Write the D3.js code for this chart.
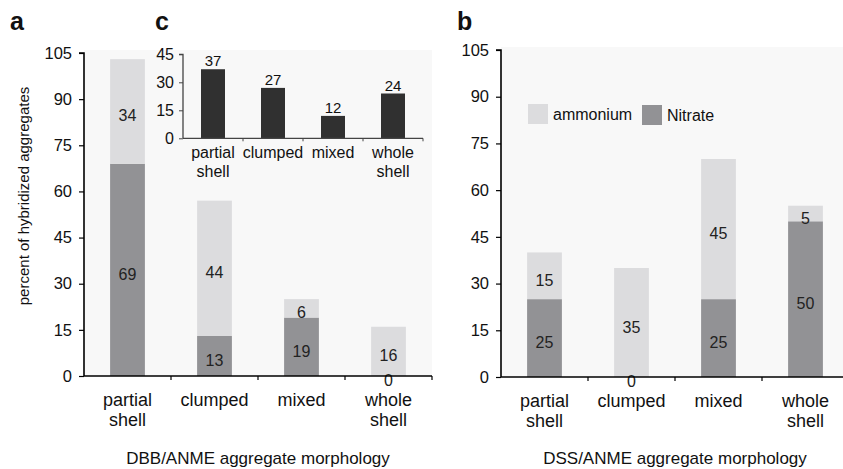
<!DOCTYPE html>
<html>
<head>
<meta charset="utf-8">
<script src="https://cdn.jsdelivr.net/npm/d3@7"></script>
<style>
  body { margin: 0; background: #fff; }
  svg { display: block; font-family: "Liberation Sans", Arial, sans-serif; }
</style>
</head>
<body>
<svg width="843" height="469"></svg>
<script>
// data
const categories = ['partial\nshell', 'clumped', 'mixed', 'whole\nshell'];
const yTicks = [0, 15, 30, 45, 60, 75, 90, 105];
const insetTicks = [0, 15, 30, 45];

// panel a (DBB/ANME)
const dbbNitrate = [69, 13, 19, 0];
const dbbAmmonium = [34, 44, 6, 16];
// panel b (DSS/ANME)
const dssNitrate = [25, 0, 25, 50];
const dssAmmonium = [15, 35, 45, 5];
// panel c (inset)
const insetValues = [37, 27, 12, 24];

const legendNames = ['ammonium', 'Nitrate'];

const colAmm = '#dcdcde';
const colNit = '#929295';
const colDark = '#303030';
const colBg = '#f8f8f8';

const svg = d3.select('svg');

function tickLabels(sel, lineH) {
  sel.each(function(d) {
    const t = d3.select(this);
    const lines = d.split('\n');
    t.text(null);
    lines.forEach((l, i) => {
      t.append('tspan').attr('x', 0).attr('dy', i === 0 ? 0 : lineH).text(l);
    });
  });
}

//stacked panel
function stackedPanel(opt) {
  const g = svg.append('g').attr('transform', `translate(${opt.left},0)`);

  const x = d3.scaleBand()
      .domain(categories)
      .range([0, opt.width])
      .paddingInner(0.6)
      .paddingOuter(0.3);
  const y = d3.scaleLinear().domain([0, 105]).range([opt.bottom, opt.top]);

  g.append('rect')
      .attr('x', 0).attr('y', opt.top - 3)
      .attr('width', opt.width).attr('height', opt.bottom - opt.top + 3)
      .attr('fill', colBg);

  const rows = categories.map((c, i) => ({ c, nit: opt.nitrate[i], amm: opt.ammonium[i] }));

  // nitrate bottom
  g.selectAll('.nit').data(rows).join('rect')
      .attr('x', d => x(d.c))
      .attr('width', x.bandwidth())
      .attr('y', d => y(d.nit))
      .attr('height', d => y(0) - y(d.nit))
      .attr('fill', colNit);

  // ammonium on top
  g.selectAll('.amm').data(rows).join('rect')
      .attr('x', d => x(d.c))
      .attr('width', x.bandwidth())
      .attr('y', d => y(d.nit + d.amm))
      .attr('height', d => y(d.nit) - y(d.nit + d.amm))
      .attr('fill', colAmm);

  // value labels
  const lab = [];
  rows.forEach(d => {
    lab.push({ c: d.c, v: d.nit, mid: d.nit / 2 });
    lab.push({ c: d.c, v: d.amm, mid: d.nit + d.amm / 2 });
  });
  g.selectAll('.lab').data(lab).join('text')
      .attr('x', d => x(d.c) + x.bandwidth() / 2)
      .attr('y', d => y(d.mid) + 10)
      .attr('text-anchor', 'middle')
      .attr('font-size', 16)
      .attr('fill', '#222')
      .text(d => d.v);

  // y axis
  const yAxis = g.append('g')
      .call(d3.axisLeft(y).tickValues(yTicks).tickSize(5).tickPadding(7));
  yAxis.select('.domain').attr('d', `M-5,${y(105)}H0V${y(0)}`).attr('stroke-width', 1.6);
  yAxis.selectAll('.tick line').attr('stroke-width', 1.2);
  yAxis.selectAll('text').attr('font-size', 16.5).attr('fill', '#111');

  // x axis with ticks on band boundaries
  const xa = g.append('g').attr('transform', `translate(0,${y(0)})`);
  xa.append('line').attr('x1', 0).attr('x2', opt.width)
      .attr('stroke', '#000').attr('stroke-width', 1.6);
  xa.selectAll('.bt').data(d3.range(1, categories.length + 1)).join('line')
      .attr('x1', i => i * x.step()).attr('x2', i => i * x.step())
      .attr('y1', 0).attr('y2', 4)
      .attr('stroke', '#000').attr('stroke-width', 1.2);
  xa.selectAll('.xl').data(categories).join('text')
      .attr('transform', d => `translate(${x(d) + x.bandwidth() / 2},30)`)
      .attr('text-anchor', 'middle')
      .attr('font-size', 18)
      .attr('fill', '#111')
      .call(tickLabels, 20);

  g.append('text')
      .attr('x', opt.width / 2).attr('y', 464)
      .attr('text-anchor', 'middle')
      .attr('font-size', 17)
      .attr('fill', '#111')
      .text(opt.title);

  return { g, x, y };
}

const pa = stackedPanel({ left: 84, width: 348, top: 53, bottom: 376,
  nitrate: dbbNitrate, ammonium: dbbAmmonium, title: 'DBB/ANME aggregate morphology' });
const pb = stackedPanel({ left: 501, width: 348, top: 50, bottom: 377,
  nitrate: dssNitrate, ammonium: dssAmmonium, title: 'DSS/ANME aggregate morphology' });

// y label
svg.append('text')
    .attr('transform', 'translate(29,196) rotate(-90)')
    .attr('text-anchor', 'middle')
    .attr('font-size', 15)
    .attr('fill', '#111')
    .text('percent of hybridized aggregates');

// inset c
const ig = svg.append('g').attr('transform', 'translate(183,0)');
const ix = d3.scaleBand().domain(categories).range([0, 240]).paddingInner(0.6).paddingOuter(0.3);
const iy = d3.scaleLinear().domain([0, 45]).range([138.3, 54.3]);

ig.selectAll('.ib').data(insetValues).join('rect')
    .attr('x', (d, i) => ix(categories[i]))
    .attr('width', ix.bandwidth())
    .attr('y', d => iy(d))
    .attr('height', d => iy(0) - iy(d))
    .attr('fill', colDark);
ig.selectAll('.iv').data(insetValues).join('text')
    .attr('x', (d, i) => ix(categories[i]) + ix.bandwidth() / 2)
    .attr('y', d => iy(d) - 3)
    .attr('text-anchor', 'middle')
    .attr('font-size', 15)
    .attr('fill', '#111')
    .text(d => d);

const iya = ig.append('g').call(d3.axisLeft(iy).tickValues(insetTicks).tickSize(4).tickPadding(5));
iya.select('.domain').attr('d', `M-4,${iy(45)}H0V${iy(0)}`).attr('stroke', '#444').attr('stroke-width', 1.3);
iya.selectAll('.tick line').attr('stroke', '#444');
iya.selectAll('text').attr('font-size', 16).attr('fill', '#111');

const ixa = ig.append('g').attr('transform', `translate(0,${iy(0)})`);
ixa.append('line').attr('x1', 0).attr('x2', 240).attr('stroke', '#444').attr('stroke-width', 1.3);
ixa.selectAll('.bt').data(d3.range(1, 5)).join('line')
    .attr('x1', i => i * ix.step()).attr('x2', i => i * ix.step())
    .attr('y1', 0).attr('y2', 3).attr('stroke', '#444');
ixa.selectAll('.xl').data(categories).join('text')
    .attr('transform', d => `translate(${ix(d) + ix.bandwidth() / 2},20)`)
    .attr('text-anchor', 'middle')
    .attr('font-size', 16)
    .attr('fill', '#111')
    .call(tickLabels, 19);

// legend in panel b
const leg = svg.append('g').attr('transform', 'translate(528,104)');
const legItems = leg.selectAll('g').data(legendNames).join('g')
    .attr('transform', (d, i) => `translate(${i * 114},${i})`);
legItems.append('rect').attr('width', 20).attr('height', 20)
    .attr('fill', (d, i) => i === 0 ? colAmm : colNit);
legItems.append('text').attr('x', 25).attr('y', 16)
    .attr('font-size', 16).attr('fill', '#111')
    .text(d => d);

// panel letters
const letters = [['a', 10, 30], ['c', 155, 30], ['b', 457, 30]];
svg.selectAll('.pl').data(letters).join('text')
    .attr('x', d => d[1]).attr('y', d => d[2])
    .attr('font-size', 25).attr('font-weight', 'bold')
    .attr('fill', '#111')
    .text(d => d[0]);
</script>
</body>
</html>
